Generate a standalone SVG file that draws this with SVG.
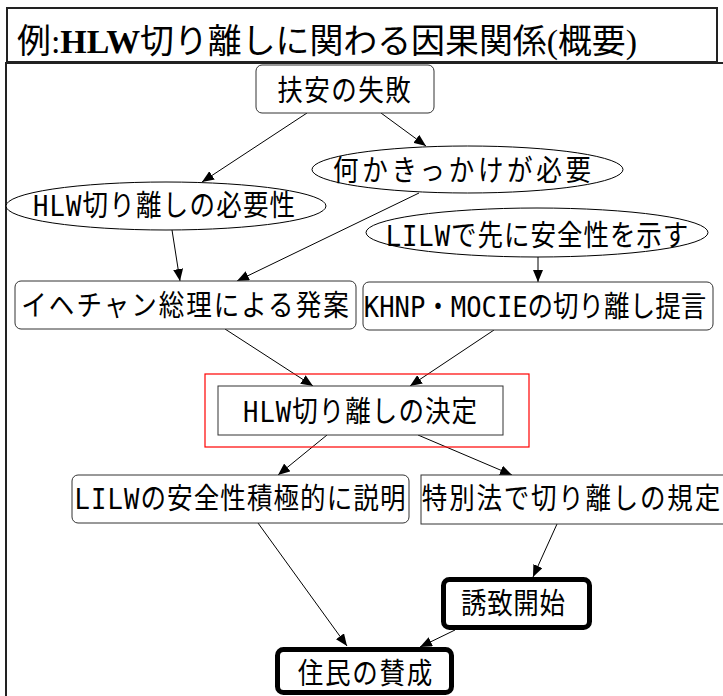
<svg xmlns="http://www.w3.org/2000/svg" width="723" height="696" viewBox="0 0 723 696">
<style>
.lbl{font-family:"DejaVu Sans Mono","Noto Sans CJK JP",monospace;font-size:29px;fill:#000;text-anchor:middle}
.box{fill:#fff;stroke:#333;stroke-width:1}
.ell{fill:#fff;stroke:#000;stroke-width:1}
.thick{fill:#fff;stroke:#000;stroke-width:5}
.edge{stroke:#000;stroke-width:1;fill:none;marker-end:url(#ah)}
</style>
<defs>
<marker id="ah" viewBox="0 0 12 10" refX="12" refY="5" markerWidth="12" markerHeight="10" markerUnits="userSpaceOnUse" orient="auto">
<path d="M0,0 L12,5 L0,10 Z" fill="#000"/>
</marker>
</defs>
<rect width="723" height="696" fill="#fff"/>
<g id="frame">
<rect x="7" y="8" width="710" height="54" fill="#fff" stroke="#222" stroke-width="2"/>
<text x="17" y="53" font-family="'Liberation Serif','Noto Sans CJK JP',serif" font-size="34" textLength="620" lengthAdjust="spacingAndGlyphs">例:<tspan font-weight="bold">HLW</tspan>切り離しに関わる因果関係(概要)</text>
<path d="M6,696 V63 H723" fill="none" stroke="#222" stroke-width="2"/>
</g>
<g id="connectors">
<line class="edge" x1="307" y1="113" x2="202" y2="182"/>
<line class="edge" x1="381" y1="113" x2="426" y2="146"/>
<line class="edge" x1="172" y1="230" x2="180" y2="281"/>
<line class="edge" x1="419" y1="193" x2="237" y2="281"/>
<line class="edge" x1="538" y1="257" x2="538" y2="282"/>
<line class="edge" x1="225" y1="329" x2="313" y2="386"/>
<line class="edge" x1="494" y1="330" x2="410" y2="386"/>
<line class="edge" x1="327" y1="435" x2="278" y2="475"/>
<line class="edge" x1="418" y1="435" x2="512" y2="475"/>
<line class="edge" x1="258" y1="523" x2="347" y2="646"/>
<line class="edge" x1="557" y1="524" x2="533" y2="577"/>
<line class="edge" x1="455" y1="630" x2="420" y2="647"/>
</g>
<g id="n_fuan">
<rect class="box" x="256" y="65" width="178" height="48" rx="6"/>
<text class="lbl" transform="translate(344,101) scale(0.88,1)" textLength="152" lengthAdjust="spacing">扶安の失敗</text>
</g>
<g id="n_kikkake">
<ellipse class="ell" cx="467.5" cy="169.5" rx="155.5" ry="23.5"/>
<text class="lbl" transform="translate(462,181) scale(0.88,1)" textLength="293" lengthAdjust="spacing">何かきっかけが必要</text>
</g>
<g id="n_hitsuyou">
<ellipse class="ell" cx="166" cy="206" rx="160" ry="24"/>
<text class="lbl" transform="translate(164,216) scale(0.88,1)" textLength="298" lengthAdjust="spacing">HLW切り離しの必要性</text>
</g>
<g id="n_lilw_saki">
<ellipse class="ell" cx="537" cy="232.5" rx="171" ry="24.5"/>
<text class="lbl" transform="translate(537,246) scale(0.88,1)" textLength="344" lengthAdjust="spacing">LILWで先に安全性を示す</text>
</g>
<g id="n_ihechan">
<rect class="box" x="15" y="281" width="341" height="48" rx="6"/>
<text class="lbl" transform="translate(185,316) scale(0.88,1)" textLength="372" lengthAdjust="spacing">イヘチャン総理による発案</text>
</g>
<g id="n_khnp">
<rect class="box" x="363" y="282" width="350" height="48" rx="6"/>
<text class="lbl" transform="translate(535,317) scale(0.88,1)" textLength="389" lengthAdjust="spacing">KHNP・MOCIEの切り離し提言</text>
</g>
<g id="n_kettei">
<rect x="205" y="374" width="324" height="73" fill="none" stroke="#f00" stroke-width="1.2"/>
<rect class="box" x="218" y="386" width="285" height="49"/>
<text class="lbl" transform="translate(360,422) scale(0.88,1)" textLength="266" lengthAdjust="spacing">HLW切り離しの決定</text>
</g>
<g id="n_setsumei">
<rect class="box" x="72" y="475" width="337" height="48" rx="6"/>
<text class="lbl" transform="translate(240,509) scale(0.88,1)" textLength="376" lengthAdjust="spacing">LILWの安全性積極的に説明</text>
</g>
<g id="n_tokubetsu">
<rect class="box" x="421" y="475" width="310" height="49"/>
<text class="lbl" transform="translate(571,509) scale(0.88,1)" textLength="339" lengthAdjust="spacing">特別法で切り離しの規定</text>
</g>
<g id="n_yuuchi">
<rect class="thick" x="443.5" y="579.5" width="146" height="48" rx="6"/>
<text class="lbl" transform="translate(513,614) scale(0.88,1)" textLength="118" lengthAdjust="spacing">誘致開始</text>
</g>
<g id="n_juumin">
<rect class="thick" x="277.5" y="649.5" width="174" height="43" rx="6"/>
<text class="lbl" transform="translate(365,684) scale(0.88,1)" textLength="153" lengthAdjust="spacing">住民の賛成</text>
</g>
</svg>
